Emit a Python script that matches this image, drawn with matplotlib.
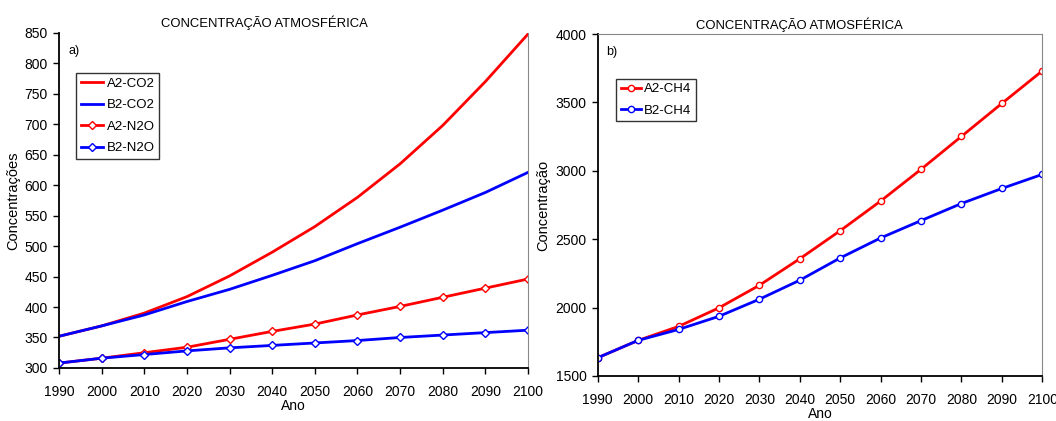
import matplotlib
matplotlib.use("Agg")
from matplotlib import pyplot as plt

plt.rcParams["font.family"] = ["Liberation Sans", "DejaVu Sans"]

anos = [1990, 2000, 2010, 2020, 2030, 2040, 2050, 2060, 2070, 2080, 2090, 2100]

a2_co2 = [352, 369, 390, 417, 451, 490, 532, 580, 635, 698, 770, 848]
b2_co2 = [352, 369, 387, 409, 429, 452, 476, 504, 531, 559, 588, 621]
a2_n2o = [308, 316, 325, 334, 347, 360, 372, 387, 401, 416, 431, 446]
b2_n2o = [308, 316, 322, 328, 333, 337, 341, 345, 350, 354, 358, 362]

a2_ch4 = [1633, 1760, 1862, 1998, 2163, 2357, 2562, 2779, 3011, 3252, 3493, 3731]
b2_ch4 = [1633, 1760, 1840, 1936, 2061, 2200, 2363, 2509, 2636, 2761, 2871, 2974]

RED = "#ff0000"
BLUE = "#0000ff"
TITULO = "CONCENTRAÇÃO ATMOSFÉRICA"

fig = plt.figure(figsize=(10.56, 4.21), dpi=100)
ax1 = fig.add_axes([0.0559, 0.126, 0.4441, 0.796])
ax2 = fig.add_axes([0.566, 0.107, 0.421, 0.812])


def estilo(ax, ylim, ystep, top, tx):
    ax.set_xlim(1990, 2100)
    ax.set_ylim(*ylim)
    ax.set_xticks(anos)
    ax.set_yticks(range(ylim[0], ylim[1] + 1, ystep))
    ax.tick_params(labelsize=10, length=4, width=1, direction="out")
    ax.tick_params(axis="x", pad=8)
    ax.tick_params(axis="y", pad=4)
    ax.spines["left"].set_linewidth(1.3)
    ax.spines["bottom"].set_linewidth(1.3)
    ax.spines["right"].set_color("#888888")
    ax.spines["top"].set_color("#888888")
    ax.spines["top"].set_visible(top)
    ax.set_title(TITULO, fontsize=9.4, pad=4, x=tx)
    ax.set_xlabel("Ano", fontsize=10, labelpad=0)


# painel a) CO2 e N2O
ax1.plot(anos, a2_co2, color=RED, lw=2, label="A2-CO2")
ax1.plot(anos, b2_co2, color=BLUE, lw=2, label="B2-CO2")
ax1.plot(anos, a2_n2o, color=RED, lw=2, marker="D", ms=4.5, mfc="white",
         mec=RED, mew=1, label="A2-N2O")
ax1.plot(anos, b2_n2o, color=BLUE, lw=2, marker="D", ms=4.5, mfc="white",
         mec=BLUE, mew=1, label="B2-N2O")
estilo(ax1, (300, 850), 50, False, 0.437)
ax1.set_ylabel("Concentrações", fontsize=10.5, labelpad=3)
ax1.text(0.02, 0.965, "a)", transform=ax1.transAxes, fontsize=9, va="top")
leg1 = ax1.legend(loc="upper left", bbox_to_anchor=(0.037, 0.88), fontsize=9.5,
                  frameon=True, fancybox=False, edgecolor="black",
                  handlelength=1.7, handletextpad=0.25, borderpad=0.35,
                  labelspacing=0.7, borderaxespad=0)
leg1.get_frame().set_linewidth(1)

# painel b) CH4
ax2.plot(anos, a2_ch4, color=RED, lw=2, marker="o", ms=4.5, mfc="white",
         mec=RED, mew=1, label="A2-CH4")
ax2.plot(anos, b2_ch4, color=BLUE, lw=2, marker="o", ms=4.5, mfc="white",
         mec=BLUE, mew=1, label="B2-CH4")
estilo(ax2, (1500, 4000), 500, True, 0.453)
ax2.set_ylabel("Concentração", fontsize=10.5, labelpad=4)
ax2.text(0.018, 0.965, "b)", transform=ax2.transAxes, fontsize=9, va="top")
leg2 = ax2.legend(loc="upper left", bbox_to_anchor=(0.042, 0.87), fontsize=9.5,
                  frameon=True, fancybox=False, edgecolor="black",
                  handlelength=1.5, handletextpad=0.25, borderpad=0.35,
                  labelspacing=0.7, borderaxespad=0)
leg2.get_frame().set_linewidth(1)

fig.savefig("out.png", dpi=100)
